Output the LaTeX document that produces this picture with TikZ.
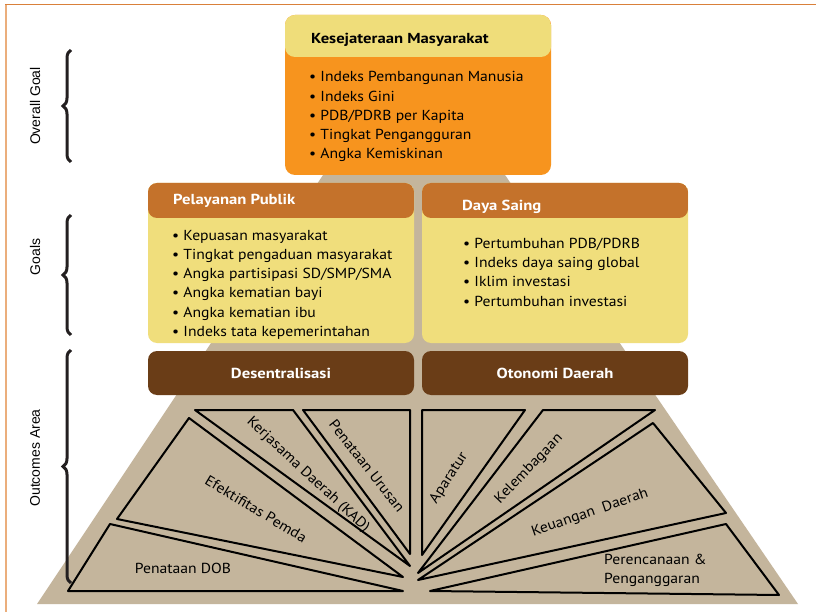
\documentclass[tikz,border=0pt]{standalone}
\usepackage{fontspec}
\setmainfont{PT Sans}[FakeStretch=1.08, BoldFeatures={FakeStretch=1.15}]
\newfontfamily\labfont{Liberation Sans}
\usetikzlibrary{decorations.pathreplacing}
\definecolor{hdryellow}{HTML}{EFDD7A}
\definecolor{toporange}{HTML}{F7941E}
\definecolor{goalhead}{HTML}{C4722B}
\definecolor{goalbody}{HTML}{F0DE7C}
\definecolor{brownbox}{HTML}{6A3D17}
\definecolor{beige}{HTML}{C4B59C}
\definecolor{frametop}{HTML}{D9803A}
\definecolor{frameleft}{HTML}{EBAE7C}
\definecolor{bracecol}{HTML}{231F20}
\begin{document}
\begin{tikzpicture}[x=1pt,y=-1pt,
  listnode/.style={align=left, inner sep=0pt, anchor=north west, font=\fontsize{14.5}{19.2}\selectfont},
  headtext/.style={anchor=west, inner sep=0pt, font=\bfseries\fontsize{14.5}{17}\selectfont},
  goalbox/.style={fill=goalbody, rounded corners=9pt, minimum width=266pt, minimum height=160pt, inner sep=0pt,
    path picture={\fill[goalhead] (path picture bounding box.north west) rectangle ([yshift=-35pt]path picture bounding box.north east);}},
  brownnode/.style={fill=brownbox, rounded corners=9pt, minimum width=266pt, minimum height=44pt, inner sep=0pt, text=white, font=\bfseries\fontsize{14.5}{17}\selectfont},
  fan/.style={draw=black, line width=2pt, line join=round},
  fanlabel/.style={font=\fontsize{14.5}{17}\selectfont, inner sep=0pt},
  bracestyle/.style={draw=bracecol, line width=3pt, decorate, decoration={brace, amplitude=8pt}},
  sidelabel/.style={rotate=90, font=\labfont\fontsize{14}{16}\selectfont, inner sep=0pt}
]
\useasboundingbox (0,0) rectangle (816,612);
\fill[white] (0,0) rectangle (816,612);
% frame
\draw[frameleft, line width=1.5pt] (6,5) -- (6,612);
\draw[frametop, line width=1.5pt] (5.25,4.5) -- (816,4.5);
% pyramid background
\fill[beige] (37,604) -- (325,172) -- (503,172) -- (798,604) -- cycle;
% top box
\node[fill=toporange, rounded corners=10pt, minimum width=266pt, minimum height=160pt, inner sep=0pt,
  path picture={\fill[hdryellow] (path picture bounding box.north west) rectangle ([yshift=-42pt]path picture bounding box.north east);}]
  (topbox) at (418,95) {};
\node[headtext] (toptitle) at (311,40) {Kesejateraan Masyarakat};
\node[listnode] (toplist) at (309,71.5) {• Indeks Pembangunan Manusia\\• Indeks Gini\\• PDB/PDRB per Kapita\\• Tingkat Pengangguran\\• Angka Kemiskinan};
% goal boxes
\node[goalbox] (gleft) at (281,263) {};
\node[goalbox] (gright) at (555,263) {};
\node[headtext, text=white] (gltitle) at (173,201) {Pelayanan Publik};
\node[headtext, text=white] (grtitle) at (462,207) {Daya Saing};
\node[listnode] (gllist) at (172,230) {• Kepuasan masyarakat\\• Tingkat pengaduan masyarakat\\• Angka partisipasi SD/SMP/SMA\\• Angka kematian bayi\\• Angka kematian ibu\\• Indeks tata kepemerintahan};
\node[listnode] (grlist) at (463,238) {• Pertumbuhan PDB/PDRB\\• Indeks daya saing global\\• Iklim investasi\\• Pertumbuhan investasi};
% brown boxes
\node[brownnode] (desen) at (281,373) {Desentralisasi};
\node[brownnode] (otonomi) at (555,373) {Otonomi Daerah};
% fan triangles
\draw[fan] (68,591) -- (110,524) -- (403,591) -- cycle;
\draw[fan] (117,519) -- (189,418) -- (403,577) -- cycle;
\draw[fan] (195,410) -- (293,410) -- (410,566) -- cycle;
\draw[fan] (303,410) -- (410,410) -- (410,554) -- cycle;
\draw[fan] (422,410) -- (525,410) -- (422,555) -- cycle;
\draw[fan] (543,410) -- (655,410) -- (418,573) -- cycle;
\draw[fan] (653,423) -- (726,513) -- (418,580) -- cycle;
\draw[fan] (726,524) -- (779,595) -- (430,591) -- cycle;
% fan labels
\node[fanlabel] (f1) at (183,568) {Penataan DOB};
\node[fanlabel, rotate=-31] (f2) at (256,509) {Efektifitas Pemda};
\node[fanlabel, rotate=-43] (f3) at (308,475) {Kerjasama Daerah (KAD)};
\node[fanlabel, rotate=-52] (f4) at (367,466) {Penataan Urusan};
\node[fanlabel, rotate=57] (f5) at (449,478) {Aparatur};
\node[fanlabel, rotate=46] (f6) at (529,469) {Kelembagaan};
\node[fanlabel, rotate=19] (f7) at (590,513) {Keuangan\ \ Daerah};
\node[fanlabel, align=left, anchor=north west, font=\fontsize{14.5}{19}\selectfont] (f8) at (604,554) {Perencanaan \&\\Penganggaran};
% braces and side labels
\draw[bracestyle] (71,162) -- (71,50);
\draw[bracestyle] (71,335) -- (71,215);
\draw[bracestyle] (71,583) -- (71,350);
\node[sidelabel] (s1) at (35,106) {Overall Goal};
\node[sidelabel] (s2) at (35,257) {Goals};
\node[sidelabel] (s3) at (35,458) {Outcomes Area};
\end{tikzpicture}
\end{document}
